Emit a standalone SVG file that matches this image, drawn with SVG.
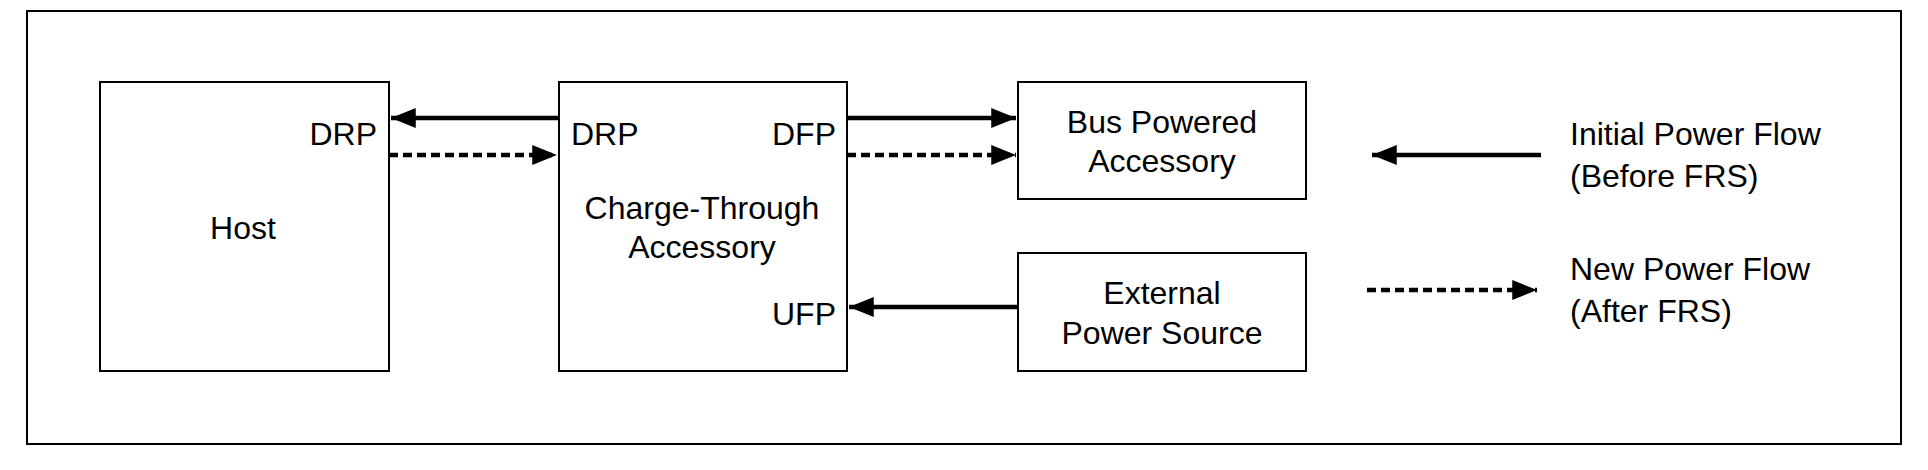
<svg xmlns="http://www.w3.org/2000/svg" width="1928" height="470" viewBox="0 0 1928 470">
<style>
.b{fill:#fff;stroke:#000;stroke-width:2}
text{font-family:"Liberation Sans",Arial,sans-serif;font-size:32px;fill:#000}
.c{text-anchor:middle}.e{text-anchor:end}
.s{stroke:#000;stroke-width:4.5;fill:none}
.d{stroke:#000;stroke-width:4.5;fill:none;stroke-dasharray:9,5}
</style>
<defs><marker id="a" markerWidth="5.5" markerHeight="4.4" refX="5.5" refY="2.2" orient="auto" markerUnits="strokeWidth"><path d="M0,0L5.5,2.2L0,4.4z" fill="#000"/></marker></defs>
<rect x="27" y="11" width="1874" height="433" fill="#fff" stroke="#000" stroke-width="2"/>
<g id="host"><rect class="b" x="100" y="82" width="289" height="289"/><text class="c" x="243" y="239">Host</text><text class="e" x="377" y="145">DRP</text></g>
<g id="cta"><rect class="b" x="559" y="82" width="288" height="289"/><text class="c" x="702" y="219">Charge-Through</text><text class="c" x="702" y="258">Accessory</text><text x="571" y="145">DRP</text><text class="e" x="836" y="145">DFP</text><text class="e" x="836" y="325">UFP</text></g>
<g id="bus"><rect class="b" x="1018" y="82" width="288" height="117"/><text class="c" x="1162" y="133">Bus Powered</text><text class="c" x="1162" y="172">Accessory</text></g>
<g id="ext"><rect class="b" x="1018" y="253" width="288" height="118"/><text class="c" x="1162" y="304">External</text><text class="c" x="1162" y="344">Power Source</text></g>
<g id="connectors">
<line class="s" x1="559" y1="118" x2="391" y2="118" marker-end="url(#a)"/>
<line class="d" x1="389" y1="155" x2="557" y2="155" marker-end="url(#a)"/>
<line class="s" x1="847" y1="118" x2="1016" y2="118" marker-end="url(#a)"/>
<line class="d" x1="847" y1="155" x2="1016" y2="155" marker-end="url(#a)"/>
<line class="s" x1="1018" y1="307" x2="849" y2="307" marker-end="url(#a)"/>
<line class="s" x1="1541" y1="155" x2="1372" y2="155" marker-end="url(#a)"/>
<line class="d" x1="1367" y1="290" x2="1537" y2="290" marker-end="url(#a)"/>
</g>
<g id="legend"><text x="1570" y="145">Initial Power Flow</text><text x="1570" y="187">(Before FRS)</text><text x="1570" y="280">New Power Flow</text><text x="1570" y="322">(After FRS)</text></g>
</svg>
